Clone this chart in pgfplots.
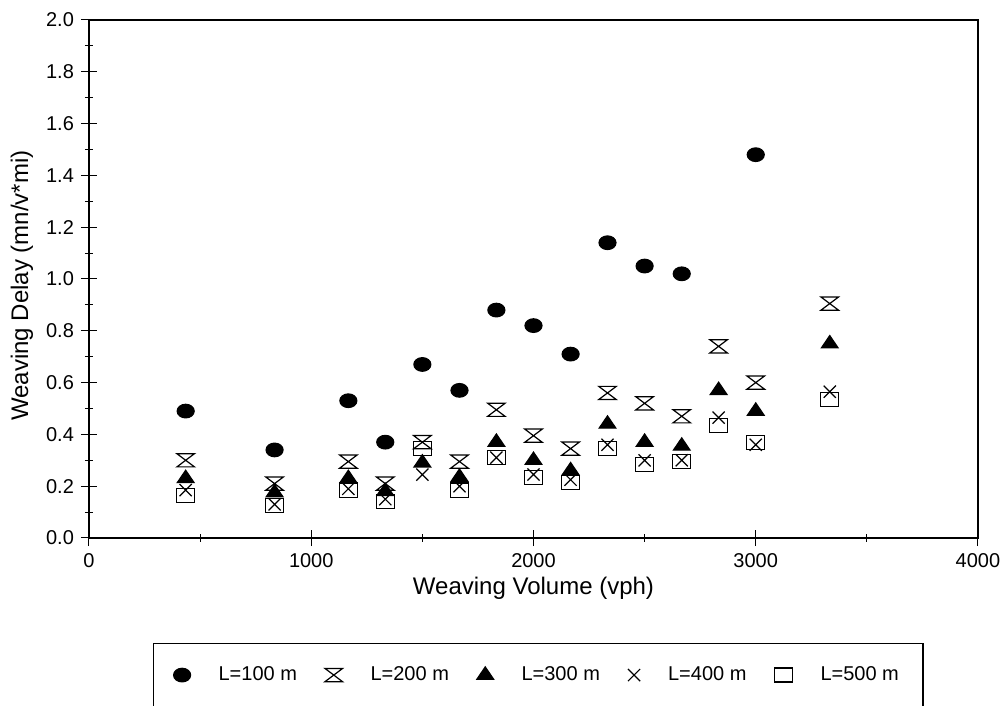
\documentclass[border=0pt]{standalone}
\usepackage{fontspec}
\setmainfont{Liberation Sans}
\usepackage{pgfplots}
\pgfplotsset{compat=1.18}

% hourglass mark for the L=200 m series
\pgfdeclareplotmark{bowtie}{%
  \pgfpathmoveto{\pgfqpoint{-1.33\pgfplotmarksize}{\pgfplotmarksize}}%
  \pgfpathlineto{\pgfqpoint{1.33\pgfplotmarksize}{\pgfplotmarksize}}%
  \pgfpathlineto{\pgfqpoint{-1.33\pgfplotmarksize}{-\pgfplotmarksize}}%
  \pgfpathlineto{\pgfqpoint{1.33\pgfplotmarksize}{-\pgfplotmarksize}}%
  \pgfpathclose
  \pgfusepathqstroke}

\begin{document}
\begin{tikzpicture}
\useasboundingbox (-44.5pt,-84pt) rectangle (456.5pt,269pt);
\begin{axis}[
    at={(0,0)}, anchor=origin,
    scale only axis,
    width=444.5pt, height=259pt,
    xmin=0, xmax=4000, ymin=0, ymax=2.0,
    xtick distance=1000, minor x tick num=1,
    ytick distance=0.2, minor y tick num=1,
    xtick pos=left, ytick pos=left,
    tick align=center,
    major tick length=8pt, minor tick length=4pt,
    axis line style={line width=0.6pt},
    every tick/.style={black, line width=0.5pt},
    /pgf/number format/assume math mode=true,
    xticklabel style={/pgf/number format/1000 sep={}, font=\fontsize{10}{12}\selectfont},
    yticklabel style={/pgf/number format/fixed, /pgf/number format/fixed zerofill,
        /pgf/number format/precision=1, font=\fontsize{10}{12}\selectfont},
    xlabel={Weaving Volume (vph)},
    ylabel={Weaving Delay (mn/v*mi)},
    label style={font=\fontsize{12}{14}\selectfont},
    xlabel style={at={(axis description cs:0.5,-0.0965)}, anchor=center},
    ylabel style={at={(axis description cs:-0.0754,0.487)}, anchor=center},
    legend columns=5,
    legend style={at={(0.072,-0.2027)}, anchor=north west,
        draw=black, line width=0.6pt,
        inner xsep=10pt, inner ysep=9.5pt,
        font=\fontsize{10}{12}\selectfont,
        /tikz/every odd column/.append style={column sep=12pt},
        /tikz/every even column/.append style={column sep=12pt}},
    every axis plot/.append style={only marks, black, line width=0.6pt},
]
\addplot[mark=*, mark size=3.4pt, mark options={xscale=1.25, fill=black}] coordinates {
  (435,0.49) (835,0.34) (1167,0.53) (1333,0.37) (1500,0.67) (1667,0.57)
  (1833,0.88) (2000,0.82) (2167,0.71) (2333,1.14) (2500,1.05) (2667,1.02)
  (3000,1.48)
};
\addlegendentry{L=100 m}
\addplot[mark=bowtie, mark size=3.3pt] coordinates {
  (435,0.30) (835,0.21) (1167,0.295) (1333,0.21) (1500,0.37) (1667,0.295)
  (1833,0.495) (2000,0.395) (2167,0.345) (2333,0.56) (2500,0.52) (2667,0.47)
  (2833,0.74) (3000,0.60) (3333,0.905)
};
\addlegendentry{L=200 m}
\addplot[mark=triangle*, mark size=4.8pt, mark options={yscale=0.85, fill=black}] coordinates {
  (435,0.23) (835,0.175) (1167,0.23) (1333,0.18) (1500,0.29) (1667,0.235)
  (1833,0.37) (2000,0.30) (2167,0.26) (2333,0.44) (2500,0.37) (2667,0.355)
  (2833,0.57) (3000,0.49) (3333,0.75)
};
\addlegendentry{L=300 m}
\addplot[mark=x, mark size=4.3pt] coordinates {
  (435,0.185) (835,0.13) (1167,0.19) (1333,0.15) (1500,0.245) (1667,0.20)
  (1833,0.31) (2000,0.245) (2167,0.225) (2333,0.36) (2500,0.30) (2667,0.30)
  (2833,0.465) (3000,0.36) (3333,0.565)
};
\addlegendentry{L=400 m}
\addplot[mark=square, mark size=4.5pt, mark options={yscale=0.78}] coordinates {
  (435,0.165) (835,0.125) (1167,0.185) (1333,0.14) (1500,0.345) (1667,0.185)
  (1833,0.31) (2000,0.235) (2167,0.215) (2333,0.345) (2500,0.285) (2667,0.295)
  (2833,0.435) (3000,0.37) (3333,0.535)
};
\addlegendentry{L=500 m}
\end{axis}
\end{tikzpicture}
\end{document}
